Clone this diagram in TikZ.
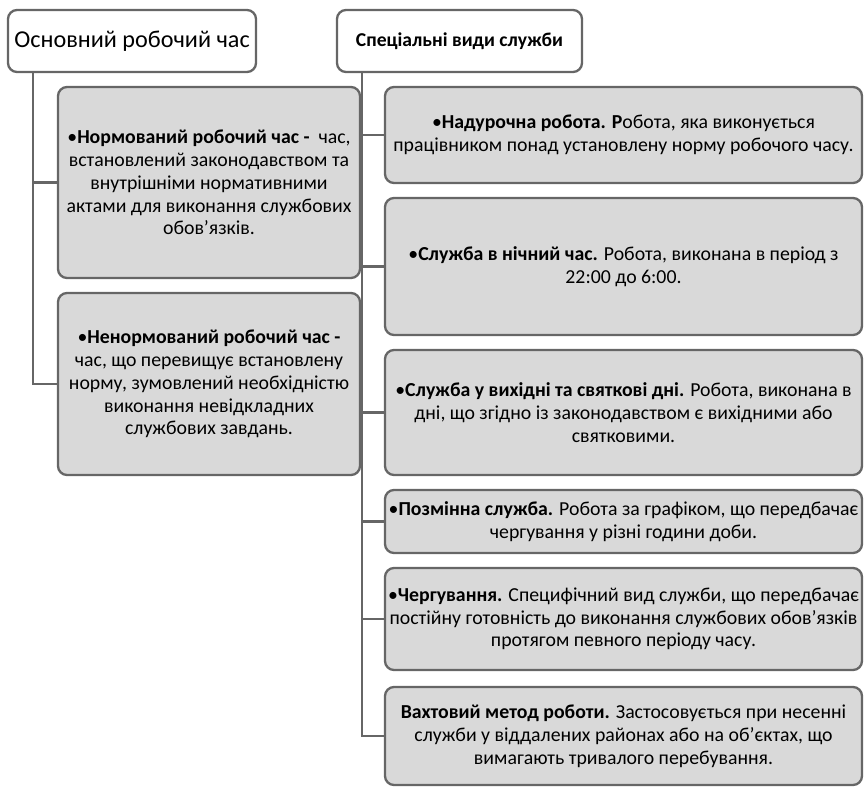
\documentclass[tikz,border=0pt]{standalone}
\usepackage{fontspec}
\setmainfont{Carlito}
\definecolor{edgegray}{HTML}{666666}
\definecolor{boxgray}{HTML}{D9D9D9}
\begin{document}
\begin{tikzpicture}[x=1pt,y=-1pt,
  base/.style={draw=edgegray, line width=2.3pt, rounded corners=9pt, align=center, inner sep=2pt},
  headbox/.style={base, fill=white},
  infobox/.style={base, fill=boxgray, font=\fontsize{19.8}{22.8}\selectfont},
  link/.style={draw=edgegray, line width=2.3pt}]
\useasboundingbox (0,0) rectangle (868,788);
% headers
\node[headbox, minimum width=248pt, minimum height=62pt, font=\fontsize{24.2}{29}\selectfont] (h1) at (132,41) {Основний робочий час};
\node[headbox, minimum width=245pt, minimum height=62pt, font=\fontsize{19.6}{23}\selectfont\bfseries] (h2) at (459.5,41) {Спеціальні види служби};
% left boxes
\node[infobox, minimum width=302pt, minimum height=191pt] (l1) at (209,182.5) {•\textbf{Нормований робочий час -} \ час,\\встановлений законодавством та\\внутрішніми нормативними\\актами для виконання службових\\обов’язків.};
\node[infobox, minimum width=302pt, minimum height=182pt] (l2) at (209,384) {•\textbf{Ненормований робочий час -}\\час, що перевищує встановлену\\норму, зумовлений необхідністю\\виконання невідкладних\\службових завдань.};
% right boxes
\node[infobox, minimum width=477pt, minimum height=96pt] (r1) at (623.5,135) {•\textbf{Надурочна робота. Р}обота, яка виконується\\працівником понад установлену норму робочого часу.};
\node[infobox, minimum width=477pt, minimum height=137pt] (r2) at (623.5,266.5) {•\textbf{Служба в нічний час.} Робота, виконана в період з\\22:00 до 6:00.};
\node[infobox, minimum width=477pt, minimum height=125pt] (r3) at (623.5,412.5) {•\textbf{Служба у вихідні та святкові дні.} Робота, виконана в\\дні, що згідно із законодавством є вихідними або\\святковими.};
\node[infobox, minimum width=477pt, minimum height=63pt] (r4) at (623.5,521.5) {•\textbf{Позмінна служба.} Робота за графіком, що передбачає\\чергування у різні години доби.};
\node[infobox, minimum width=477pt, minimum height=102pt] (r5) at (623.5,619) {•\textbf{Чергування.} Специфічний вид служби, що передбачає\\постійну готовність до виконання службових обов’язків\\протягом певного періоду часу.};
\node[infobox, minimum width=477pt, minimum height=98pt] (r6) at (623.5,736) {\textbf{Вахтовий метод роботи.} Застосовується при несенні\\служби у віддалених районах або на об’єктах, що\\вимагають тривалого перебування.};
% connectors
\coordinate (lx) at (33,0);
\coordinate (rx) at (362,0);
\draw[link] (h1.south -| lx) -- (l2.west -| lx) -- (l2.west);
\draw[link] (l1.west -| lx) -- (l1.west);
\draw[link] (h2.south -| rx) -- (r6.west -| rx) -- (r6.west);
\draw[link] (r1.west -| rx) -- (r1.west);
\draw[link] (r2.west -| rx) -- (r2.west);
\draw[link] (r3.west -| rx) -- (r3.west);
\draw[link] (r4.west -| rx) -- (r4.west);
\draw[link] (r5.west -| rx) -- (r5.west);
\end{tikzpicture}
\end{document}
